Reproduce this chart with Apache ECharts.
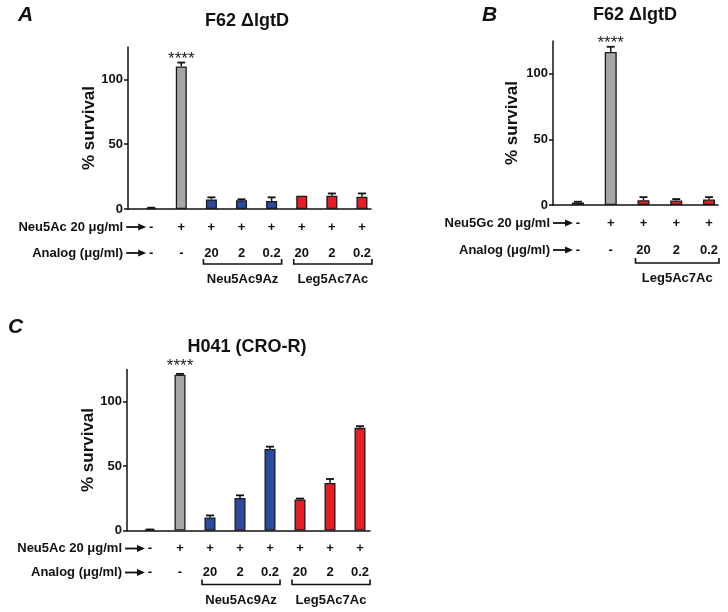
<!DOCTYPE html>
<html>
<head>
<meta charset="utf-8">
<script src="https://cdn.jsdelivr.net/npm/echarts@6/dist/echarts.min.js"></script>
<style>html,body{margin:0;padding:0;background:#fff}#c{width:728px;height:612px}</style>
</head>
<body>
<div id="c"></div>
<script>
// ---------- data ----------
const yTicks = [0, 50, 100];
const yMax = 125;

const xA = [1, 2, 3, 4, 5, 6, 7, 8];
const survivalA = [0.6, 110, 7.4, 6.7, 6.2, 10.2, 10.2, 9.5];
const errA = [0.4, 3, 1.6, 0.8, 2.8, 0, 1.8, 2.5];
const groupA = ['ctrl', 'sugar', 'az', 'az', 'az', 'leg', 'leg', 'leg'];
const starsA = ['', '****', '', '', '', '', '', ''];
const row1A = ['-', '+', '+', '+', '+', '+', '+', '+'];
const row2A = ['-', '-', '20', '2', '0.2', '20', '2', '0.2'];
const bracketsA = [['Neu5Ac9Az', 3, 5], ['Leg5Ac7Ac', 6, 8]];

const xB = [1, 2, 3, 4, 5];
const survivalB = [2, 116.6, 3.7, 3.4, 4.2];
const errB = [0.5, 4, 2.3, 1.1, 1.8];
const groupB = ['ctrl', 'sugar', 'leg', 'leg', 'leg'];
const starsB = ['', '****', '', '', ''];
const row1B = ['-', '+', '+', '+', '+'];
const row2B = ['-', '-', '20', '2', '0.2'];
const bracketsB = [['Leg5Ac7Ac', 3, 5]];

const xC = [1, 2, 3, 4, 5, 6, 7, 8];
const survivalC = [0.5, 121, 10.1, 25.2, 63.3, 24.1, 36.9, 79.7];
const errC = [0.3, 0.6, 1.6, 2.1, 1.8, 0.7, 3.1, 1.3];
const groupC = ['ctrl', 'sugar', 'az', 'az', 'az', 'leg', 'leg', 'leg'];
const starsC = ['', '****', '', '', '', '', '', ''];
const row1C = ['-', '+', '+', '+', '+', '+', '+', '+'];
const row2C = ['-', '-', '20', '2', '0.2', '20', '2', '0.2'];
const bracketsC = [['Neu5Ac9Az', 3, 5], ['Leg5Ac7Ac', 6, 8]];

// ---------- styling ----------
const FONT = '"Liberation Sans", Arial, sans-serif';
const groupColor = { ctrl: '#ffffff', sugar: '#a6a6aa', az: '#2b4a9f', leg: '#e51e26' };

const panels = [
  { x: xA, y: survivalA, e: errA, g: groupA, s: starsA, r1: row1A, r2: row2A, br: bracketsA,
    r1Title: 'Neu5Ac 20 μg/ml', r2Title: 'Analog (μg/ml)',
    grid: { left: 128, top: 47, width: 243, height: 162 }, xmin: 0.23, xmax: 8.3, barW: 11,
    off: [18, 44, 55, 70], nameGap: 30, starGap: 3 },
  { x: xB, y: survivalB, e: errB, g: groupB, s: starsB, r1: row1B, r2: row2B, br: bracketsB,
    r1Title: 'Neu5Gc 20 μg/ml', r2Title: 'Analog (μg/ml)',
    grid: { left: 553, top: 41, width: 165, height: 164 }, xmin: 0.237, xmax: 5.275, barW: 12,
    off: [18, 45, 58, 73], nameGap: 32, starGap: 3 },
  { x: xC, y: survivalC, e: errC, g: groupC, s: starsC, r1: row1C, r2: row2C, br: bracketsC,
    r1Title: 'Neu5Ac 20 μg/ml', r2Title: 'Analog (μg/ml)',
    grid: { left: 127, top: 369.5, width: 243, height: 161 }, xmin: 0.233, xmax: 8.333, barW: 11,
    off: [18, 42, 54, 70], nameGap: 28, starGap: 8 }
];

const chart = echarts.init(document.getElementById('c'), null, { renderer: 'canvas' });

const grids = [], xAxes = [], yAxes = [], series = [];
panels.forEach((p, i) => {
  grids.push(Object.assign({ containLabel: false }, p.grid));
  xAxes.push({
    type: 'value', gridIndex: i, min: p.xmin, max: p.xmax,
    axisLine: { show: true, onZero: false, lineStyle: { color: '#111', width: 1.5 } },
    axisTick: { show: false }, axisLabel: { show: false }, splitLine: { show: false }
  });
  yAxes.push({
    type: 'value', gridIndex: i, min: 0, max: yMax,
    name: '% survival', nameLocation: 'middle', nameGap: p.nameGap,
    nameTextStyle: { fontFamily: FONT, fontWeight: 'bold', fontSize: 17, color: '#111' },
    axisLine: { show: true, lineStyle: { color: '#111', width: 1.5 } },
    axisTick: { show: true, length: 4, customValues: yTicks, lineStyle: { color: '#111', width: 1.5 } },
    axisLabel: { customValues: yTicks, fontFamily: FONT, fontWeight: 'bold', fontSize: 13, color: '#111', margin: 5 },
    splitLine: { show: false }
  });
  series.push({
    type: 'bar', xAxisIndex: i, yAxisIndex: i, barWidth: p.barW,
    data: p.x.map((xv, k) => ({
      value: [xv, p.y[k]],
      itemStyle: { color: groupColor[p.g[k]], borderColor: '#1a1a1a', borderWidth: 1.3 }
    })),
    animation: false
  });
  series.push({
    type: 'custom', xAxisIndex: i, yAxisIndex: i,
    data: p.x.map((xv, k) => [xv, p.y[k], p.e[k]]),
    renderItem: function (params, api) {
      const xv = api.value(0), yv = api.value(1), ev = api.value(2);
      const base = api.coord([xv, yv]);
      const top = api.coord([xv, yv + ev]);
      const children = [];
      if (ev > 0) {
        children.push({ type: 'line', shape: { x1: base[0], y1: base[1], x2: top[0], y2: top[1] },
          style: { stroke: '#111', lineWidth: 1.5 } });
        children.push({ type: 'line', shape: { x1: top[0] - 4, y1: top[1], x2: top[0] + 4, y2: top[1] },
          style: { stroke: '#111', lineWidth: 1.8 } });
      }
      const star = p.s[params.dataIndex];
      if (star) {
        children.push({ type: 'text', x: top[0], y: top[1] - p.starGap,
          style: { text: star, fontFamily: FONT, fontSize: 17, fill: '#222', align: 'center', verticalAlign: 'middle' } });
      }
      return { type: 'group', children: children };
    },
    animation: false
  });
});

const staticGraphics = [
  { type: 'text', x: 18, y: 15, style: { text: 'A', fontFamily: FONT, fontWeight: 'bold', fontStyle: 'italic', fontSize: 21, fill: '#111', verticalAlign: 'middle' } },
  { type: 'text', x: 482, y: 15, style: { text: 'B', fontFamily: FONT, fontWeight: 'bold', fontStyle: 'italic', fontSize: 21, fill: '#111', verticalAlign: 'middle' } },
  { type: 'text', x: 8, y: 327, style: { text: 'C', fontFamily: FONT, fontWeight: 'bold', fontStyle: 'italic', fontSize: 21, fill: '#111', verticalAlign: 'middle' } },
  { type: 'text', x: 247, y: 21, style: { text: 'F62 ΔlgtD', fontFamily: FONT, fontWeight: 'bold', fontSize: 18, fill: '#111', align: 'center', verticalAlign: 'middle' } },
  { type: 'text', x: 635, y: 15, style: { text: 'F62 ΔlgtD', fontFamily: FONT, fontWeight: 'bold', fontSize: 18, fill: '#111', align: 'center', verticalAlign: 'middle' } },
  { type: 'text', x: 247, y: 347, style: { text: 'H041 (CRO-R)', fontFamily: FONT, fontWeight: 'bold', fontSize: 18, fill: '#111', align: 'center', verticalAlign: 'middle' } }
];

chart.setOption({
  animation: false,
  grid: grids, xAxis: xAxes, yAxis: yAxes, series: series,
  graphic: staticGraphics
});

// ---------- annotation rows computed from the axes ----------
const extra = [];
const txt = (x, y, s, align) => ({ type: 'text', x: x, y: y,
  style: { text: s, fontFamily: FONT, fontWeight: 'bold', fontSize: 13, fill: '#111', align: align || 'center', verticalAlign: 'middle' } });
const arrow = (xEnd, y) => [
  { type: 'line', shape: { x1: xEnd - 20, y1: y, x2: xEnd - 6, y2: y }, style: { stroke: '#111', lineWidth: 1.8 } },
  { type: 'polygon', shape: { points: [[xEnd - 8, y - 3.5], [xEnd, y], [xEnd - 8, y + 3.5]] }, style: { fill: '#111' } }
];
panels.forEach((p, i) => {
  const px = v => chart.convertToPixel({ xAxisIndex: i }, v);
  const axisY = p.grid.top + p.grid.height;
  const y1 = axisY + p.off[0], y2 = axisY + p.off[1], yb = axisY + p.off[2], yl = axisY + p.off[3];
  const c1 = px(p.x[0]);
  extra.push(txt(c1 - 28, y1, p.r1Title, 'right'));
  extra.push(...arrow(c1 - 5, y1));
  extra.push(txt(c1 - 28, y2, p.r2Title, 'right'));
  extra.push(...arrow(c1 - 5, y2));
  p.x.forEach((xv, k) => {
    extra.push(txt(px(xv), y1, p.r1[k]));
    extra.push(txt(px(xv), y2, p.r2[k]));
  });
  p.br.forEach(b => {
    const xs = px(b[1]) - 8, xe = px(b[2]) + 10;
    extra.push({ type: 'polyline', shape: { points: [[xs, yb - 5], [xs, yb], [xe, yb], [xe, yb - 5]] },
      style: { stroke: '#111', lineWidth: 1.6, fill: null } });
    extra.push(txt((xs + xe) / 2, yl, b[0]));
  });
});
chart.setOption({ graphic: staticGraphics.concat(extra) });
</script>
</body>
</html>
